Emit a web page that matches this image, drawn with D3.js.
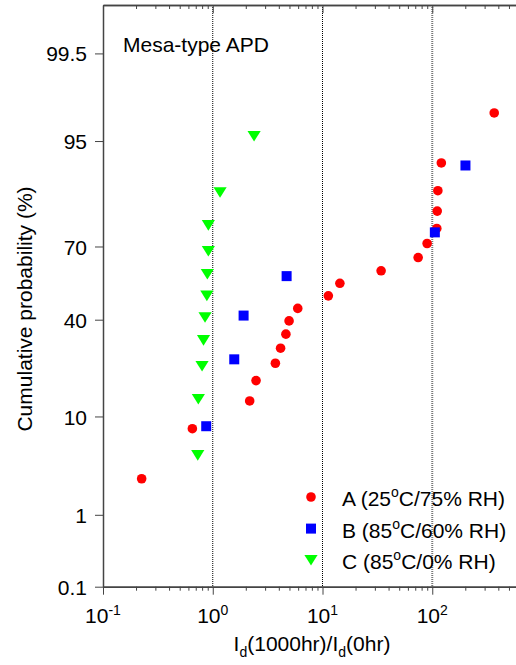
<!DOCTYPE html>
<html>
<head>
<meta charset="utf-8">
<script src="https://cdn.jsdelivr.net/npm/d3@7"></script>
<style>
body { margin: 0; background: #fff; }
svg { display: block; font-family: "Liberation Sans", Arial, sans-serif; }
</style>
</head>
<body>
<div id="vis"></div>
<script>
var width = 516,
    height = 665;

// series: Id(1000hr)/Id(0hr) and cumulative probability (%)
var aRatio = [0.225, 0.652, 2.17, 2.48, 3.72, 4.15, 4.64, 4.96, 5.95, 11.3, 14.4, 34.2, 74.4, 89.8, 110, 111, 112.5, 121, 367];
var aProb  = [2.6, 7.9, 13.2, 18.4, 23.7, 28.9, 34.2, 39.5, 44.7, 50, 55.3, 60.5, 65.8, 71.1, 76.3, 81.6, 86.8, 92.1, 97.4];
var bRatio = [0.872, 1.57, 1.91, 4.71, 105.6, 200.7];
var bProb  = [8.3, 25, 41.7, 58.3, 75, 91.7];
var cRatio = [0.730, 0.739, 0.799, 0.824, 0.851, 0.884, 0.893, 0.912, 0.912, 1.166, 2.38];
var cProb  = [4.5, 13.6, 22.7, 31.8, 40.9, 50, 59.1, 68.2, 77.3, 86.4, 95.5];

var yTicks = [0.1, 1, 10, 40, 70, 95, 99.5];
var xTicks = [0.1, 1, 10, 100, 1000];
var xLabelTicks = [0.1, 1, 10, 100];
var xExponents = ["-1", "0", "1", "2"];
var legendText = ["A (25^oC/75% RH)", "B (85^oC/60% RH)", "C (85^oC/0% RH)"];
var colors = ["#ff0000", "#0000ff", "#00ff00"];

// inverse normal cdf (Acklam's approximation) for the probability axis
function probit(p) {
    var a = [-3.969683028665376e+01, 2.209460984245205e+02, -2.759285104469687e+02, 1.383577518672690e+02, -3.066479806614716e+01, 2.506628277459239e+00];
    var b = [-5.447609879822406e+01, 1.615858368580409e+02, -1.556989798598866e+02, 6.680131188771972e+01, -1.328068155288572e+01];
    var c = [-7.784894002430293e-03, -3.223964580411365e-01, -2.400758277161838e+00, -2.549732539343734e+00, 4.374664141464968e+00, 2.938163982698783e+00];
    var d = [7.784695709041462e-03, 3.224671290700398e-01, 2.445134137142996e+00, 3.754408661907416e+00];
    var plow = 0.02425, q, r;
    if (p < plow) {
        q = Math.sqrt(-2 * Math.log(p));
        return (((((c[0]*q+c[1])*q+c[2])*q+c[3])*q+c[4])*q+c[5]) / ((((d[0]*q+d[1])*q+d[2])*q+d[3])*q+1);
    }
    if (p > 1 - plow) {
        q = Math.sqrt(-2 * Math.log(1 - p));
        return -(((((c[0]*q+c[1])*q+c[2])*q+c[3])*q+c[4])*q+c[5]) / ((((d[0]*q+d[1])*q+d[2])*q+d[3])*q+1);
    }
    q = p - 0.5; r = q * q;
    return (((((a[0]*r+a[1])*r+a[2])*r+a[3])*r+a[4])*r+a[5])*q / (((((b[0]*r+b[1])*r+b[2])*r+b[3])*r+b[4])*r+1);
}

var plotLeft = 103, plotTop = 5, plotBottom = 586.7;

var x = d3.scaleLog()
    .domain([0.1, 1000])
    .range([plotLeft, 542]);

var yz = d3.scaleLinear()
    .domain([probit(0.001), probit(0.999)])
    .range([plotBottom, plotTop]);

var y = function(pct) { return yz(probit(pct / 100)); };

var svg = d3.select("#vis").append("svg")
    .attr("width", width)
    .attr("height", height);

//--------GRID--------//
svg.selectAll(".vline")
    .data([1, 10, 100])
    .enter()
    .append("line")
    .attr("class", "vline")
    .attr("x1", function(d) { return x(d); })
    .attr("x2", function(d) { return x(d); })
    .attr("y1", plotTop)
    .attr("y2", plotBottom)
    .attr("stroke", function(d) { return d === 100 ? "#777" : "#000"; })
    .attr("stroke-width", function(d) { return d === 100 ? 2 : 1; })
    .attr("stroke-dasharray", "1,1");

//--------POINTS--------//
var tri = "M-6.6,-5.3L6.6,-5.3L0,5.3Z";

svg.append("g").selectAll("circle")
    .data(d3.zip(aRatio, aProb))
    .enter()
    .append("circle")
    .attr("cx", function(d) { return x(d[0]); })
    .attr("cy", function(d) { return y(d[1]); })
    .attr("r", 4.8)
    .attr("fill", colors[0]);

svg.append("g").selectAll("rect")
    .data(d3.zip(bRatio, bProb))
    .enter()
    .append("rect")
    .attr("x", function(d) { return x(d[0]) - 5; })
    .attr("y", function(d) { return y(d[1]) - 5; })
    .attr("width", 10)
    .attr("height", 10)
    .attr("fill", colors[1]);

svg.append("g").selectAll("path")
    .data(d3.zip(cRatio, cProb))
    .enter()
    .append("path")
    .attr("d", tri)
    .attr("transform", function(d) { return "translate(" + x(d[0]) + "," + y(d[1]) + ")"; })
    .attr("fill", colors[2]);

//--------AXES--------//
var minor = x.ticks().filter(function(d) { return xTicks.indexOf(d) < 0; });

function styleAxis(g) {
    g.select(".domain").attr("stroke", "#444").attr("stroke-width", 1.5);
    g.selectAll(".tick line").attr("stroke", "#444").attr("stroke-width", 1);
    g.selectAll(".tick text").remove();
}

svg.append("g")
    .attr("transform", "translate(0," + plotBottom + ")")
    .call(d3.axisBottom(x).tickValues(xTicks).tickSize(8).tickSizeOuter(0))
    .call(styleAxis);

svg.append("g")
    .attr("transform", "translate(0," + plotBottom + ")")
    .call(d3.axisBottom(x).tickValues(minor).tickSize(4).tickSizeOuter(0))
    .call(styleAxis);

svg.append("g")
    .attr("transform", "translate(0," + plotTop + ")")
    .call(d3.axisTop(x).tickValues(xTicks).tickSize(-8).tickSizeOuter(0))
    .call(styleAxis);

svg.append("g")
    .attr("transform", "translate(0," + plotTop + ")")
    .call(d3.axisTop(x).tickValues(minor).tickSize(-4).tickSizeOuter(0))
    .call(styleAxis);

var yAxis = svg.append("g")
    .attr("transform", "translate(" + plotLeft + ",0)")
    .call(d3.axisLeft(yz)
        .tickValues(yTicks.map(function(t) { return probit(t / 100); }))
        .tickSize(8)
        .tickSizeOuter(0));
yAxis.select(".domain").attr("stroke", "#444").attr("stroke-width", 1.5);
yAxis.selectAll(".tick line").attr("stroke", "#444").attr("stroke-width", 1);
yAxis.selectAll(".tick text")
    .attr("x", -16)
    .attr("dy", "0.36em")
    .style("font-size", "21px")
    .style("font-family", "Liberation Sans, Arial, sans-serif")
    .attr("fill", "#000")
    .text(function(d, i) { return yTicks[i]; });

// decade labels with superscript exponents
var xlab = svg.append("g").selectAll("text")
    .data(xLabelTicks)
    .enter()
    .append("text")
    .attr("x", function(d) { return x(d); })
    .attr("y", 623)
    .attr("text-anchor", "middle")
    .style("font-size", "21px");
xlab.append("tspan").text("10");
xlab.append("tspan")
    .attr("dy", -8)
    .style("font-size", "14px")
    .text(function(d, i) { return xExponents[i]; });

//--------TITLES--------//
svg.append("text")
    .attr("transform", "translate(32,309) rotate(-90)")
    .attr("text-anchor", "middle")
    .style("font-size", "21px")
    .text("Cumulative probability (%)");

var xt = svg.append("text")
    .attr("x", 312)
    .attr("y", 651)
    .attr("text-anchor", "middle")
    .style("font-size", "21px");
xt.append("tspan").text("I");
xt.append("tspan").attr("dy", 6).style("font-size", "14px").text("d");
xt.append("tspan").attr("dy", -6).text("(1000hr)/I");
xt.append("tspan").attr("dy", 6).style("font-size", "14px").text("d");
xt.append("tspan").attr("dy", -6).text("(0hr)");

svg.append("text")
    .attr("x", 123)
    .attr("y", 52)
    .style("font-size", "21px")
    .text("Mesa-type APD");

//--------LEGEND--------//
var legend = svg.append("g").attr("id", "legend");

var legenditem = legend.selectAll(".legenditem")
    .data(legendText)
    .enter()
    .append("g")
    .attr("class", "legenditem")
    .attr("transform", function(d, i) { return "translate(311," + (497 + i * 31.6) + ")"; });

legenditem.each(function(d, i) {
    var g = d3.select(this);
    if (i === 0) g.append("circle").attr("r", 4.8).attr("fill", colors[0]);
    if (i === 1) g.append("rect").attr("x", -5).attr("y", -5).attr("width", 10).attr("height", 10).attr("fill", colors[1]);
    if (i === 2) g.append("path").attr("d", tri).attr("fill", colors[2]);
    var parts = d.split("^o");
    var t = g.append("text")
        .attr("x", 31)
        .attr("y", 9)
        .style("font-size", "21px");
    t.append("tspan").text(parts[0]);
    t.append("tspan").attr("dy", -9).style("font-size", "14px").text("o");
    t.append("tspan").attr("dy", 9).text(parts[1]);
});
</script>
</body>
</html>
